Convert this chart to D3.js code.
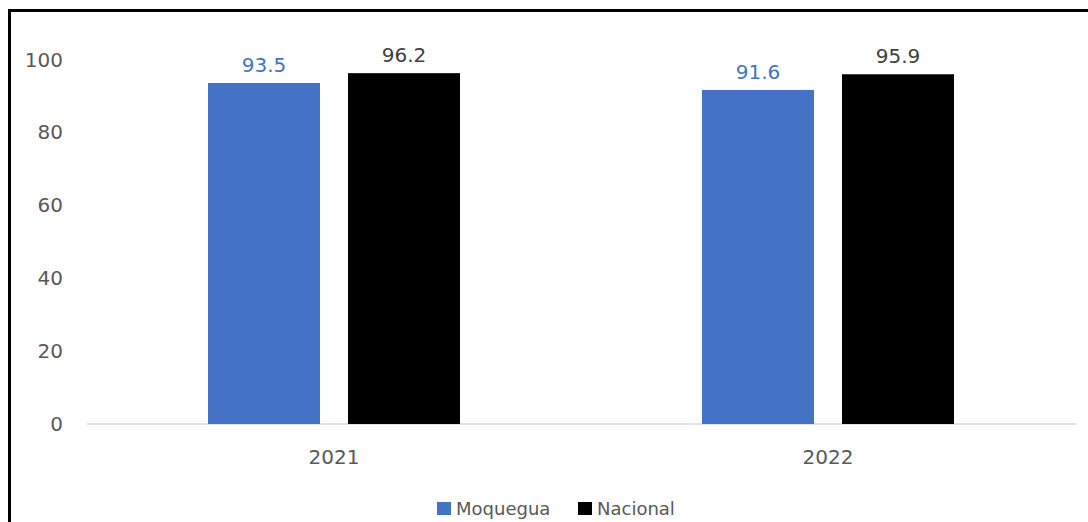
<!DOCTYPE html>
<html>
<head>
<meta charset="utf-8">
<script src="https://cdn.jsdelivr.net/npm/d3@7"></script>
<style>
  html, body { margin: 0; padding: 0; background: #fff; }
  svg { display: block; }
  text { font-family: "DejaVu Sans", "Noto Sans", sans-serif; }
</style>
</head>
<body>
<svg id="chart" width="1088" height="522"></svg>
<script>
const categories = ["2021", "2022"];
const seriesNames = ["Moquegua", "Nacional"];
const moquegua = [93.5, 91.6];
const nacional = [96.2, 95.9];
const yTicks = [0, 20, 40, 60, 80, 100];
const colors = ["#4472C4", "#000000"];
const labelColors = ["#4472C4", "#404040"];

const seriesValues = [moquegua, nacional];
const svg = d3.select("#chart");

// outer frame (top and left visible)
svg.append("rect")
  .attr("x", 9.5).attr("y", 10.5)
  .attr("width", 1200).attr("height", 600)
  .attr("fill", "none").attr("stroke", "#000").attr("stroke-width", 3);

const x0 = d3.scaleBand().domain(categories).range([87, 1075]).paddingInner(0).paddingOuter(0);
const x1 = d3.scaleBand().domain(seriesNames).range([121, 121 + 252]).paddingInner(28 / 140).paddingOuter(0);
const y = d3.scaleLinear().domain([0, 100]).range([424, 59.3]);

// baseline
svg.append("line")
  .attr("x1", 87).attr("x2", 1077)
  .attr("y1", y(0)).attr("y2", y(0))
  .attr("stroke", "#d9d9d9").attr("stroke-width", 1.5);

// y tick labels
svg.append("g").selectAll("text").data(yTicks).join("text")
  .attr("x", 63).attr("y", d => y(d))
  .attr("dy", "0.36em")
  .attr("text-anchor", "end")
  .attr("fill", "#595959")
  .attr("font-size", 20)
  .text(d => d);

// x labels
svg.append("g").selectAll("text").data(categories).join("text")
  .attr("x", d => x0(d) + x0.bandwidth() / 2)
  .attr("y", 457).attr("dy", "0.36em")
  .attr("text-anchor", "middle")
  .attr("fill", "#595959")
  .attr("font-size", 20)
  .text(d => d);

// bars
const groups = svg.append("g").selectAll("g").data(categories).join("g")
  .attr("transform", d => `translate(${x0(d)},0)`);

groups.each(function(cat, ci) {
  const g = d3.select(this);
  seriesNames.forEach((s, si) => {
    const v = seriesValues[si][ci];
    g.append("rect")
      .attr("x", x1(s)).attr("width", x1.bandwidth())
      .attr("y", y(v)).attr("height", y(0) - y(v))
      .attr("fill", colors[si]);
    g.append("text")
      .attr("x", x1(s) + x1.bandwidth() / 2)
      .attr("y", y(v) - 11)
      .attr("text-anchor", "middle")
      .attr("fill", labelColors[si])
      .attr("font-size", 20)
      .text(v.toFixed(1));
  });
});

// legend
const legendItems = [
  { name: seriesNames[0], color: colors[0], x: 437 },
  { name: seriesNames[1], color: colors[1], x: 578 }
];
const lg = svg.append("g").selectAll("g").data(legendItems).join("g")
  .attr("transform", d => `translate(${d.x},502)`);
lg.append("rect").attr("width", 14).attr("height", 13).attr("fill", d => d.color);
lg.append("text")
  .attr("x", 19).attr("y", 7).attr("dy", "0.36em")
  .attr("fill", "#595959").attr("font-size", 18)
  .text(d => d.name);
</script>
</body>
</html>
